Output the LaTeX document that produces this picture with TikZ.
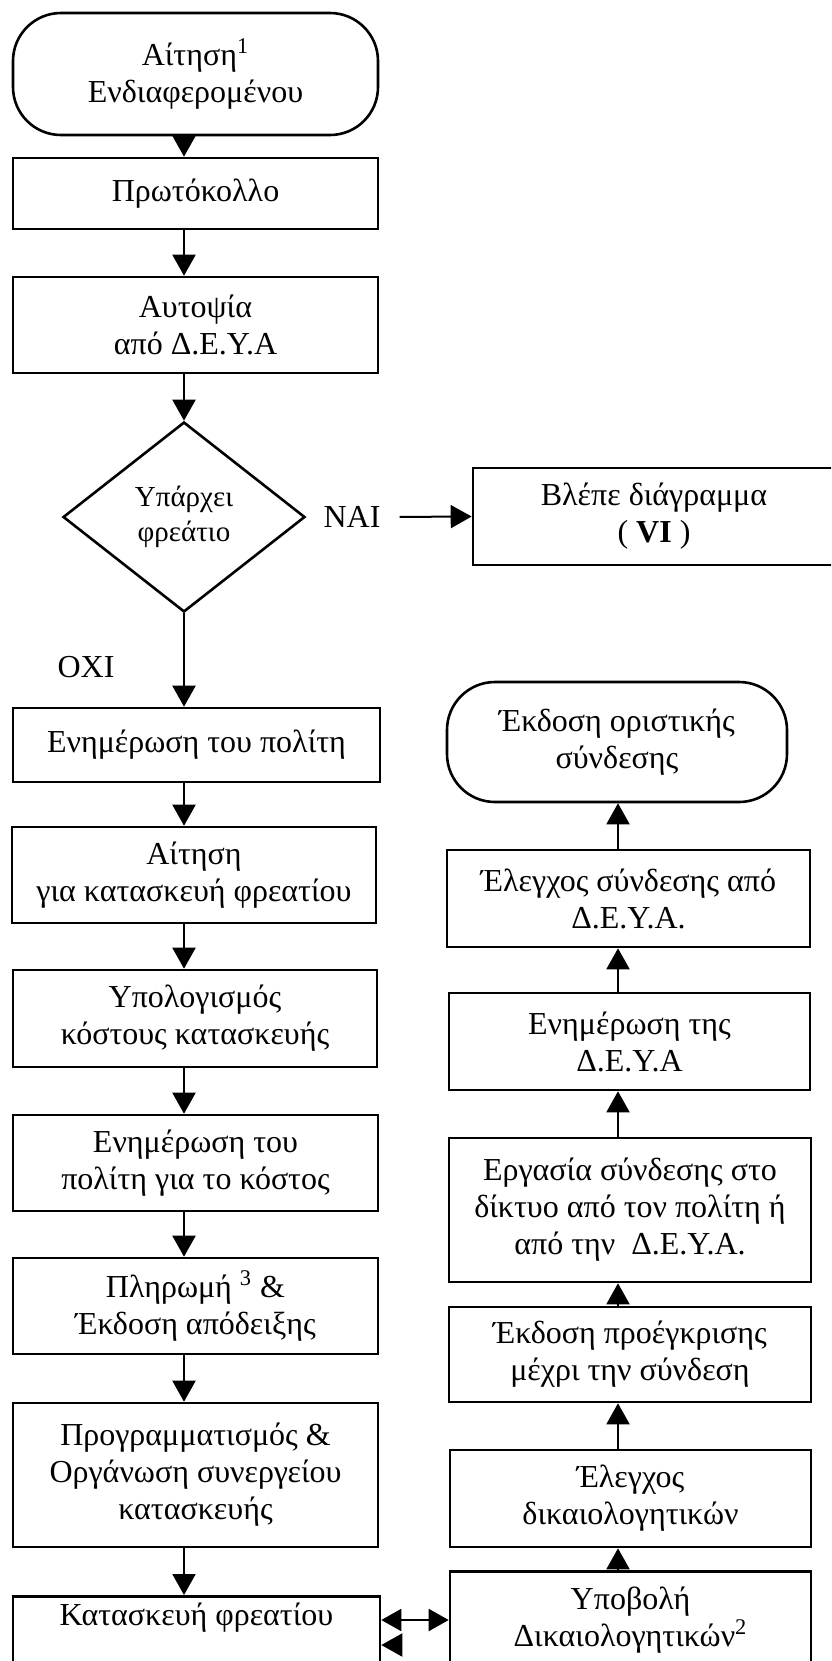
\documentclass[tikz,border=0pt]{standalone}
\usepackage{fontspec}
\setmainfont{Liberation Serif}
\usetikzlibrary{arrows.meta,shapes.geometric}

\newcommand{\boxfont}{\fontsize{16}{18.5}\selectfont}
\newcommand{\smallboxfont}{\fontsize{14.5}{17.5}\selectfont}

\tikzset{
    stepbox/.style={draw, line width=1.3pt, inner sep=0pt, align=center, font=\boxfont},
    termbox/.style={stepbox, rounded corners=24pt},
    decisionbox/.style={draw, shape=diamond, line width=1.3pt, inner sep=0pt, align=center, font=\smallboxfont},
    flow/.style={line width=1pt, -{Triangle[length=10.5pt,width=11.5pt]}},
    tag/.style={font=\fontsize{16}{18}\selectfont}
}

\begin{document}
\begin{tikzpicture}[x=0.5pt,y=0.5pt,yscale=-1,xscale=1]
    \useasboundingbox (0,0) rectangle (831,1661);
    \clip (0,0) rectangle (831,1661);
    % axes of the two columns
    \coordinate (colL) at (184,0);
    \coordinate (colR) at (618,0);

    %Left column
    \node[termbox, minimum width=182.5pt, minimum height=61pt] (start) at (195.5,74) {Αίτηση\textsuperscript{1}\\Ενδιαφερομένου};
    \node[stepbox, minimum width=182.5pt, minimum height=35.5pt] (proto) at (195.5,193.5) {Πρωτόκολλο};
    \node[stepbox, minimum width=182.5pt, minimum height=48pt] (autopsy) at (195.5,325) {Αυτοψία\\από Δ.Ε.Υ.Α};
    \node[decisionbox, minimum width=121pt, minimum height=95pt] (decision) at (184,517) {Υπάρχει\\φρεάτιο};
    \node[stepbox, minimum width=183.5pt, minimum height=37pt] (inform) at (196.5,745) {Ενημέρωση του πολίτη};
    \node[stepbox, minimum width=182pt, minimum height=48pt] (apply) at (194,875) {Αίτηση\\για κατασκευή φρεατίου};
    \node[stepbox, minimum width=182pt, minimum height=48.5pt] (cost) at (195,1018.5) {Υπολογισμός\\κόστους κατασκευής};
    \node[stepbox, minimum width=182.5pt, minimum height=48pt] (informcost) at (195.5,1163) {Ενημέρωση του\\πολίτη για το κόστος};
    \node[stepbox, minimum width=182.5pt, minimum height=48pt] (pay) at (195.5,1306) {Πληρωμή \textsuperscript{3} \&\\Έκδοση απόδειξης};
    \node[stepbox, minimum width=182.5pt, minimum height=72pt] (plan) at (195.5,1475) {Προγραμματισμός \&\\Οργάνωση συνεργείου\\κατασκευής};
    \node[stepbox, anchor=north, minimum width=183.5pt, inner ysep=3.5pt] (build) at (196.5,1595) {Κατασκευή φρεατίου\\\rule{0pt}{40pt}};

    %Right column
    \node[stepbox, minimum width=181pt, minimum height=48.5pt] (see) at (654,516.5) {Βλέπε διάγραμμα\\( \textbf{VI} )};
    \node[termbox, minimum width=170pt, minimum height=60pt] (final) at (617,742) {Έκδοση οριστικής\\σύνδεσης};
    \node[stepbox, minimum width=181.5pt, minimum height=48.5pt] (checkconn) at (628.5,898.5) {Έλεγχος σύνδεσης από\\Δ.Ε.Υ.Α.};
    \node[stepbox, minimum width=180.5pt, minimum height=48.5pt] (informdeya) at (629.5,1041.5) {Ενημέρωση της\\Δ.Ε.Υ.Α};
    \node[stepbox, minimum width=181pt, minimum height=72pt] (work) at (630,1210) {Εργασία σύνδεσης στο\\δίκτυο από τον πολίτη ή\\από την\ \ Δ.Ε.Υ.Α.};
    \node[stepbox, minimum width=181pt, minimum height=47.5pt] (preapp) at (630,1354.5) {Έκδοση προέγκρισης\\μέχρι την σύνδεση};
    \node[stepbox, minimum width=180.5pt, minimum height=48.5pt] (checkdocs) at (630.5,1498.5) {Έλεγχος\\δικαιολογητικών};
    \node[stepbox, anchor=north, minimum width=180.5pt, inner ysep=8pt] (submit) at (630.5,1570) {Υποβολή\\Δικαιολογητικών\textsuperscript{2}\\\rule{0pt}{30pt}};

    % Text Node
    \node[tag] (yes) at (352,517) {ΝΑΙ};
    % Text Node
    \node[tag] (no) at (86,667) {ΟΧΙ};

    %Arrows down the left column
    \draw[flow] (start.south -| colL) -- (proto.north -| colL);
    \draw[flow] (proto.south -| colL) -- (autopsy.north -| colL);
    \draw[flow] (autopsy.south -| colL) -- (decision.north);
    \draw[flow] (decision.south) -- (inform.north -| colL);
    \draw[flow] (inform.south -| colL) -- (apply.north -| colL);
    \draw[flow] (apply.south -| colL) -- (cost.north -| colL);
    \draw[flow] (cost.south -| colL) -- (informcost.north -| colL);
    \draw[flow] (informcost.south -| colL) -- (pay.north -| colL);
    \draw[flow] (pay.south -| colL) -- (plan.north -| colL);
    \draw[flow] (plan.south -| colL) -- (build.north -| colL);
    \draw[flow, shorten <=6pt] (yes.east) -- (see.west);

    %Arrows up the right column
    \draw[flow] (submit.north -| colR) -- (checkdocs.south -| colR);
    \draw[flow] (checkdocs.north -| colR) -- (preapp.south -| colR);
    \draw[flow] (preapp.north -| colR) -- (work.south -| colR);
    \draw[flow] (work.north -| colR) -- (informdeya.south -| colR);
    \draw[flow] (informdeya.north -| colR) -- (checkconn.south -| colR);
    \draw[flow] (checkconn.north -| colR) -- (final.south -| colR);

    %Link between the columns
    \coordinate (link) at (0,1620);
    \coordinate (linkb) at (0,1645);
    \draw[flow, {Triangle[length=10pt,width=11pt]}-{Triangle[length=10pt,width=11pt]}] (build.east |- link) -- (submit.west |- link);
    \draw[flow] (build.east |- linkb) ++(20,0) -- (build.east |- linkb);
\end{tikzpicture}
\end{document}
